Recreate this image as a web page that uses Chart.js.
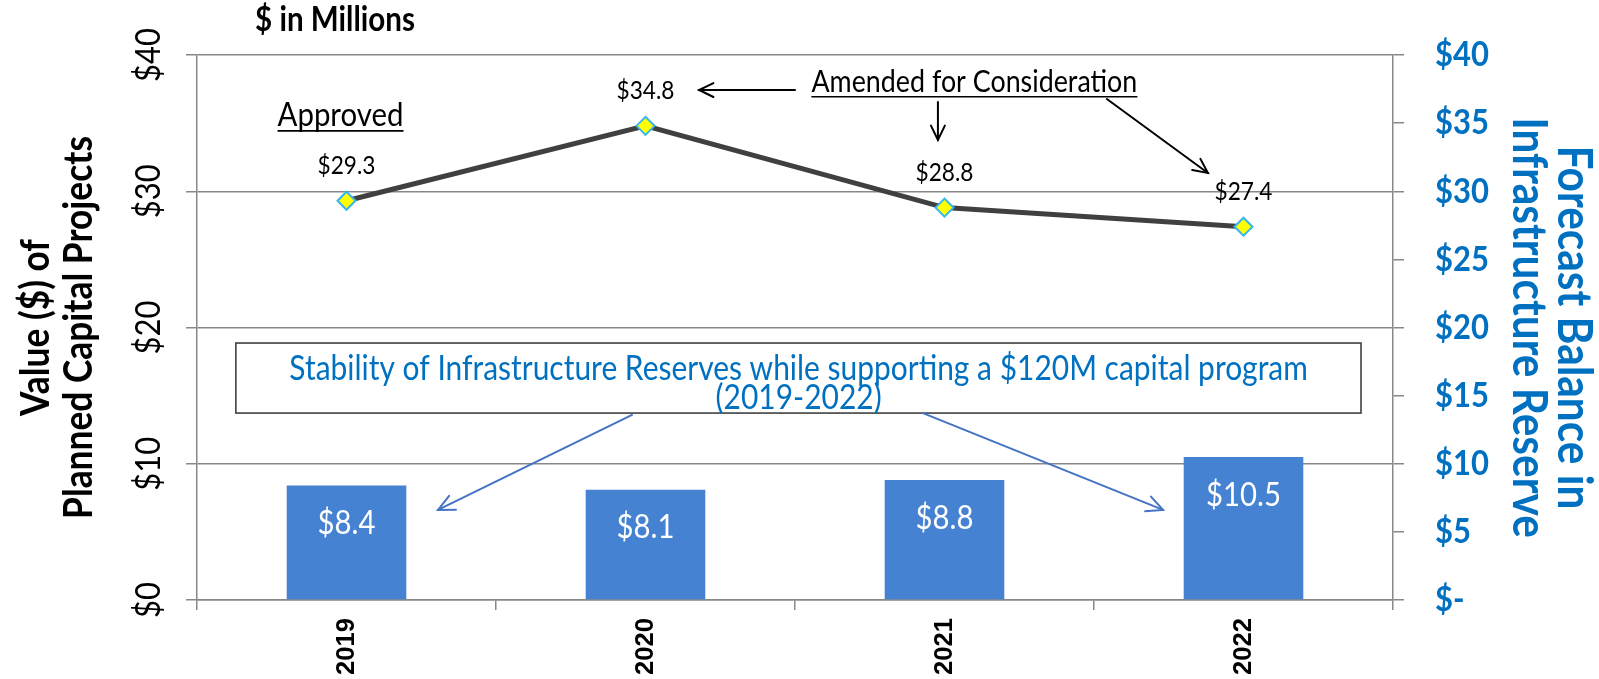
<!DOCTYPE html>
<html><head><meta charset="utf-8">
<script src="https://cdn.jsdelivr.net/npm/chart.js@4.4.0/dist/chart.umd.min.js"></script>
<style>html,body{margin:0;padding:0;background:#fff;overflow:hidden}</style>
</head><body>
<canvas id="c" width="1599" height="679"></canvas>
<script>
// ---- data ----
const years = ['2019', '2020', '2021', '2022'];
const plannedCapital = [29.3, 34.8, 28.8, 27.4];
const reserveBalance = [8.4, 8.1, 8.8, 10.5];
const leftTickLabels = ['$0', '$10', '$20', '$30', '$40'];
const rightTickLabels = ['$-', '$5', '$10', '$15', '$20', '$25', '$30', '$35', '$40'];
const plannedLabels = ['$29.3', '$34.8', '$28.8', '$27.4'];
const reserveLabels = ['$8.4', '$8.1', '$8.8', '$10.5'];

const CAL = 'Lato, "Open Sans", sans-serif';
const ARIAL = '"Liberation Sans", Arial, sans-serif';
const BLUE = '#0070C0';
const SX = 0.88; // horizontal condensation to mimic a narrow humanist face

function fitSize(ctx, text, weight, family, target, sx) {
  ctx.font = weight + ' 100px ' + family;
  return 100 * target / (ctx.measureText(text).width * (sx || 1));
}
function txt(ctx, text, x, y, size, weight, family, color, align, base, rot, sx) {
  ctx.save();
  ctx.translate(x, y);
  if (rot) ctx.rotate(rot);
  if (sx) ctx.scale(sx, 1);
  ctx.font = weight + ' ' + size + 'px ' + family;
  ctx.fillStyle = color;
  ctx.textAlign = align || 'center';
  ctx.textBaseline = base || 'middle';
  ctx.fillText(text, 0, 0);
  ctx.restore();
}
function arrow(ctx, x1, y1, x2, y2, color, w, head) {
  ctx.save();
  ctx.strokeStyle = color; ctx.lineWidth = w; ctx.lineCap = 'round'; ctx.lineJoin = 'miter';
  ctx.beginPath(); ctx.moveTo(x1, y1); ctx.lineTo(x2, y2); ctx.stroke();
  const a = Math.atan2(y2 - y1, x2 - x1), s = 0.45;
  ctx.beginPath();
  ctx.moveTo(x2 - head * Math.cos(a - s), y2 - head * Math.sin(a - s));
  ctx.lineTo(x2, y2);
  ctx.lineTo(x2 - head * Math.cos(a + s), y2 - head * Math.sin(a + s));
  ctx.stroke();
  ctx.restore();
}

const decor = {
  id: 'decor',
  afterDatasetsDraw(chart) {
    const ctx = chart.ctx;
    const lm = chart.getDatasetMeta(0);
    const ls = fitSize(ctx, '$29.3', 'normal', CAL, 58, SX);
    lm.data.forEach((p, i) => txt(ctx, plannedLabels[i], p.x, p.y - 35, ls, 'normal', CAL, '#000', 'center', 'middle', 0, SX));
    const bm = chart.getDatasetMeta(1);
    const bs = fitSize(ctx, '$8.4', 'normal', CAL, 58, SX);
    bm.data.forEach((b, i) => txt(ctx, reserveLabels[i], b.x, b.y + 38, bs, 'normal', CAL, '#fff', 'center', 'middle', 0, SX));
  },
  afterDraw(chart) {
    const ctx = chart.ctx;
    const xs = chart.scales.x, ys = chart.scales.y, y2 = chart.scales.y2;
    const X = v => xs.getPixelForValue(v), Y = v => ys.getPixelForValue(v);
    const area = chart.chartArea;
    const midY = (area.top + area.bottom) / 2;

    // left ticks
    const lts = fitSize(ctx, '$40', 'normal', CAL, 54, SX);
    ys.ticks.forEach((t, i) => txt(ctx, leftTickLabels[i], 149, ys.getPixelForValue(t.value), lts, 'normal', CAL, '#000', 'center', 'middle', -Math.PI / 2, SX));
    // right ticks
    const rts = fitSize(ctx, '$40', 'bold', CAL, 54, SX);
    y2.ticks.forEach((t, i) => txt(ctx, rightTickLabels[i], area.right + 42, y2.getPixelForValue(t.value), rts, 'bold', CAL, BLUE, 'left', 'middle', 0, SX));
    // x labels
    const xls = fitSize(ctx, '2019', 'bold', ARIAL, 57);
    years.forEach((y, i) => txt(ctx, y, X(i), area.bottom + 18, xls, 'bold', ARIAL, '#000', 'right', 'middle', -Math.PI / 2));

    // axis titles
    const t2 = 'Planned Capital Projects';
    const ts = fitSize(ctx, t2, 'bold', CAL, 383, SX);
    txt(ctx, 'Value ($) of', 36, midY, ts, 'bold', CAL, '#000', 'center', 'middle', -Math.PI / 2, SX);
    txt(ctx, t2, 79, midY, ts, 'bold', CAL, '#000', 'center', 'middle', -Math.PI / 2, SX);
    const r1 = 'Forecast Balance in';
    const rs = fitSize(ctx, r1, 'bold', CAL, 364, SX);
    txt(ctx, r1, 1574, midY, rs, 'bold', CAL, BLUE, 'center', 'middle', Math.PI / 2, SX);
    txt(ctx, 'Infrastructure Reserve', 1529, midY, rs, 'bold', CAL, BLUE, 'center', 'middle', Math.PI / 2, SX);
    // units title
    const us = fitSize(ctx, '$ in Millions', 'bold', CAL, 160, SX);
    txt(ctx, '$ in Millions', 335, 20, us, 'bold', CAL, '#000', 'center', 'middle', 0, SX);

    // underlined notes
    function note(text, i, v, w) {
      const s = fitSize(ctx, text, 'normal', CAL, w, SX);
      const cx = X(i), by = Y(v);
      txt(ctx, text, cx, by, s, 'normal', CAL, '#000', 'center', 'alphabetic', 0, SX);
      ctx.save(); ctx.strokeStyle = '#000'; ctx.lineWidth = 1.6;
      ctx.beginPath(); ctx.moveTo(cx - w / 2, by + 5); ctx.lineTo(cx + w / 2, by + 5); ctx.stroke(); ctx.restore();
    }
    note('Approved', -0.02, 34.8, 126);
    note('Amended for Consideration', 2.1, 37.3, 326);
    arrow(ctx, X(1.5), Y(37.43), X(1.179), Y(37.43), '#000', 2, 16);
    arrow(ctx, X(1.978), Y(36.55), X(1.978), Y(33.76), '#000', 2, 16);
    arrow(ctx, X(2.543), Y(36.77), X(2.881), Y(31.34), '#000', 2, 16);

    // box
    const bx1 = X(-0.37), bx2 = X(3.393), by1 = Y(18.86), by2 = Y(13.72);
    ctx.save(); ctx.fillStyle = '#fff'; ctx.fillRect(bx1, by1, bx2 - bx1, by2 - by1);
    ctx.strokeStyle = '#404040'; ctx.lineWidth = 1.6; ctx.strokeRect(bx1, by1, bx2 - bx1, by2 - by1); ctx.restore();
    const l1 = 'Stability of Infrastructure Reserves while supporting a $120M capital program';
    const bsz = fitSize(ctx, l1, 'normal', CAL, 1019, SX);
    txt(ctx, l1, X(1.512), Y(16.95), bsz, 'normal', CAL, BLUE, 'center', 'middle', 0, SX);
    txt(ctx, '(2019-2022)', X(1.512), Y(14.85), bsz, 'normal', CAL, BLUE, 'center', 'middle', 0, SX);
    arrow(ctx, X(0.955), Y(13.58), X(0.306), Y(6.61), '#4472C4', 2, 18);
    arrow(ctx, X(1.928), Y(13.72), X(2.731), Y(6.61), '#4472C4', 2, 18);
  }
};

new Chart(document.getElementById('c'), {
  type: 'bar',
  data: {
    labels: years,
    datasets: [
      { type: 'line', label: 'Planned Capital Projects', data: plannedCapital, yAxisID: 'y',
        borderColor: '#404040', borderWidth: 5, tension: 0, pointStyle: 'rectRot', pointRadius: 9,
        pointBackgroundColor: '#FFFF00', pointBorderColor: '#35B6F0', pointBorderWidth: 2, order: 0 },
      { type: 'bar', label: 'Infrastructure Reserve', data: reserveBalance, yAxisID: 'y2',
        backgroundColor: '#4682D2', barPercentage: 0.4, categoryPercentage: 1, order: 1 }
    ]
  },
  options: {
    responsive: false, animation: false,
    layout: { padding: { left: 186, right: 195, top: 55, bottom: 69 } },
    plugins: { legend: { display: false }, tooltip: { enabled: false } },
    scales: {
      x: { grid: { offset: true, drawOnChartArea: false, color: '#888', lineWidth: 1.5, tickLength: 10 },
           border: { color: '#888', width: 1.5 }, ticks: { display: false } },
      y: { position: 'left', min: 0, max: 40, ticks: { stepSize: 10, display: false },
           grid: { color: '#888', lineWidth: 1.5, tickLength: 11 }, border: { color: '#888', width: 1.5 } },
      y2: { position: 'right', min: 0, max: 40, ticks: { stepSize: 5, display: false },
            grid: { drawOnChartArea: false, color: '#888', lineWidth: 1.5, tickLength: 11 }, border: { color: '#888', width: 1.5 } }
    }
  },
  plugins: [decor]
});
</script>
</body></html>
